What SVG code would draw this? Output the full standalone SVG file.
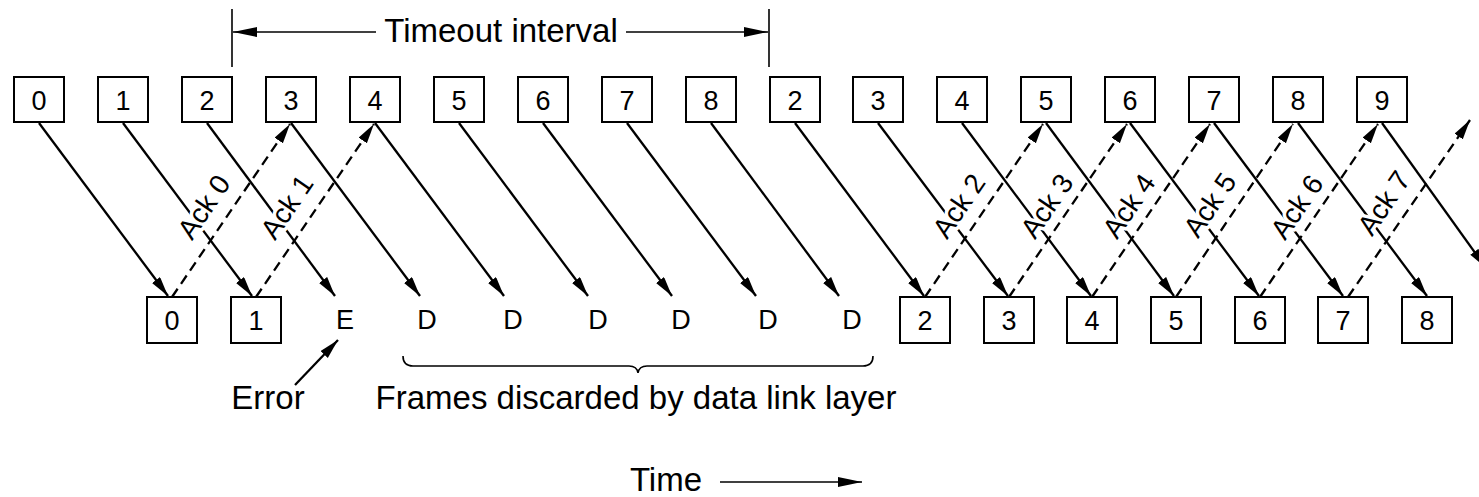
<svg xmlns="http://www.w3.org/2000/svg" width="1479" height="497" viewBox="0 0 1479 497">
<style>
  .box { fill: #fff; stroke: #000; stroke-width: 2; }
  .num { font-family: "Liberation Sans", Arial, sans-serif; font-size: 27px; fill: #000; text-anchor: middle; }
  .lbl { font-family: "Liberation Sans", Arial, sans-serif; font-size: 33px; fill: #000; text-anchor: middle; }
  .ack { font-family: "Liberation Sans", Arial, sans-serif; font-size: 28px; fill: #000; text-anchor: middle; dominant-baseline: central; stroke: #fff; stroke-width: 7px; paint-order: stroke; stroke-linejoin: round; }
  .solid { stroke: #000; stroke-width: 2.3; fill: none; marker-end: url(#ah); }
  .dash { stroke: #000; stroke-width: 2.3; fill: none; stroke-dasharray: 10 6; marker-end: url(#ah); }
  .thin { stroke: #000; stroke-width: 1.6; fill: none; }
</style>
<defs>
  <marker id="ah" markerUnits="userSpaceOnUse" markerWidth="22" markerHeight="12" refX="20" refY="5" orient="auto">
    <path d="M0,0 L20,5 L0,10 z" fill="#000"/>
  </marker>
  <marker id="ah2" markerUnits="userSpaceOnUse" markerWidth="26" markerHeight="12" refX="24" refY="5" orient="auto">
    <path d="M0,0 L24,5 L0,10 z" fill="#000"/>
  </marker>
</defs>
<rect width="1479" height="497" fill="#fff"/>

<g id="timeout">
  <line class="thin" x1="232" y1="9" x2="232" y2="67"/>
  <line class="thin" x1="769" y1="9" x2="769" y2="67"/>
  <line class="thin" x1="376" y1="32" x2="233" y2="32" marker-end="url(#ah2)"/>
  <line class="thin" x1="626" y1="32" x2="768" y2="32" marker-end="url(#ah2)"/>
  <text class="lbl" x="501" y="42">Timeout interval</text>
</g>

<g id="connectors">
  <!-- frames sent -->
  <line class="solid" x1="39" y1="123" x2="168" y2="296"/>
  <line class="solid" x1="123" y1="123" x2="252" y2="296"/>
  <line class="solid" x1="207" y1="123" x2="335" y2="296"/>
  <line class="solid" x1="291" y1="123" x2="420" y2="296"/>
  <line class="solid" x1="375" y1="123" x2="504" y2="296"/>
  <line class="solid" x1="459" y1="123" x2="588" y2="296"/>
  <line class="solid" x1="543" y1="123" x2="672" y2="296"/>
  <line class="solid" x1="627" y1="123" x2="756" y2="296"/>
  <line class="solid" x1="711" y1="123" x2="839" y2="296"/>
  <line class="solid" x1="795" y1="123" x2="924" y2="296"/>
  <line class="solid" x1="878" y1="123" x2="1008" y2="296"/>
  <line class="solid" x1="962" y1="123" x2="1091" y2="296"/>
  <line class="solid" x1="1046" y1="123" x2="1174" y2="296"/>
  <line class="solid" x1="1130" y1="123" x2="1259" y2="296"/>
  <line class="solid" x1="1214" y1="123" x2="1343" y2="296"/>
  <line class="solid" x1="1298" y1="123" x2="1427" y2="296"/>
  <line class="solid" x1="1382" y1="123" x2="1486" y2="268"/>
  <!-- acks -->
  <line class="dash" x1="172" y1="297" x2="290" y2="124"/>
  <line class="dash" x1="256" y1="297" x2="374" y2="124"/>
  <line class="dash" x1="925" y1="297" x2="1043" y2="124"/>
  <line class="dash" x1="1009" y1="297" x2="1127" y2="124"/>
  <line class="dash" x1="1092" y1="297" x2="1210" y2="124"/>
  <line class="dash" x1="1176" y1="297" x2="1293" y2="124"/>
  <line class="dash" x1="1260" y1="297" x2="1378" y2="124"/>
  <line class="dash" x1="1348" y1="297" x2="1470" y2="120"/>
  <!-- error pointer -->
  <line class="solid" x1="295" y1="385" x2="338" y2="340" stroke-width="1.8"/>
</g>

<g id="ack-labels">
  <text class="ack" transform="translate(204,207) rotate(-55.5)">Ack 0</text>
  <text class="ack" transform="translate(287,207) rotate(-55.5)">Ack 1</text>
  <text class="ack" transform="translate(959,206) rotate(-55.5)">Ack 2</text>
  <text class="ack" transform="translate(1047,206) rotate(-55.5)">Ack 3</text>
  <text class="ack" transform="translate(1129,206) rotate(-55.5)">Ack 4</text>
  <text class="ack" transform="translate(1210,205) rotate(-55.5)">Ack 5</text>
  <text class="ack" transform="translate(1297,207) rotate(-55.5)">Ack 6</text>
  <text class="ack" transform="translate(1384,203) rotate(-55.5)">Ack 7</text>
</g>

<g id="sender">
  <g id="s0"><rect class="box" x="14" y="77" width="50" height="45"/><text class="num" x="39" y="110">0</text></g>
  <g id="s1"><rect class="box" x="98" y="77" width="50" height="45"/><text class="num" x="123" y="110">1</text></g>
  <g id="s2"><rect class="box" x="182" y="77" width="50" height="45"/><text class="num" x="207" y="110">2</text></g>
  <g id="s3"><rect class="box" x="266" y="77" width="50" height="45"/><text class="num" x="291" y="110">3</text></g>
  <g id="s4"><rect class="box" x="350" y="77" width="50" height="45"/><text class="num" x="375" y="110">4</text></g>
  <g id="s5"><rect class="box" x="434" y="77" width="50" height="45"/><text class="num" x="459" y="110">5</text></g>
  <g id="s6"><rect class="box" x="518" y="77" width="50" height="45"/><text class="num" x="543" y="110">6</text></g>
  <g id="s7"><rect class="box" x="602" y="77" width="50" height="45"/><text class="num" x="627" y="110">7</text></g>
  <g id="s8"><rect class="box" x="686" y="77" width="50" height="45"/><text class="num" x="711" y="110">8</text></g>
  <g id="s2b"><rect class="box" x="770" y="77" width="50" height="45"/><text class="num" x="795" y="110">2</text></g>
  <g id="s3b"><rect class="box" x="853" y="77" width="50" height="45"/><text class="num" x="878" y="110">3</text></g>
  <g id="s4b"><rect class="box" x="937" y="77" width="50" height="45"/><text class="num" x="962" y="110">4</text></g>
  <g id="s5b"><rect class="box" x="1021" y="77" width="50" height="45"/><text class="num" x="1046" y="110">5</text></g>
  <g id="s6b"><rect class="box" x="1105" y="77" width="50" height="45"/><text class="num" x="1130" y="110">6</text></g>
  <g id="s7b"><rect class="box" x="1189" y="77" width="50" height="45"/><text class="num" x="1214" y="110">7</text></g>
  <g id="s8b"><rect class="box" x="1273" y="77" width="50" height="45"/><text class="num" x="1298" y="110">8</text></g>
  <g id="s9"><rect class="box" x="1357" y="77" width="50" height="45"/><text class="num" x="1382" y="110">9</text></g>
</g>

<g id="receiver">
  <g id="r0"><rect class="box" x="147" y="297" width="50" height="46"/><text class="num" x="172" y="330">0</text></g>
  <g id="r1"><rect class="box" x="231" y="297" width="50" height="46"/><text class="num" x="256" y="330">1</text></g>
  <g id="rE"><text class="num" x="345" y="329">E</text></g>
  <g id="rD1"><text class="num" x="427" y="329">D</text></g>
  <g id="rD2"><text class="num" x="513" y="329">D</text></g>
  <g id="rD3"><text class="num" x="598" y="329">D</text></g>
  <g id="rD4"><text class="num" x="681" y="329">D</text></g>
  <g id="rD5"><text class="num" x="768" y="329">D</text></g>
  <g id="rD6"><text class="num" x="852" y="329">D</text></g>
  <g id="r2"><rect class="box" x="900" y="297" width="50" height="46"/><text class="num" x="925" y="330">2</text></g>
  <g id="r3"><rect class="box" x="984" y="297" width="50" height="46"/><text class="num" x="1009" y="330">3</text></g>
  <g id="r4"><rect class="box" x="1067" y="297" width="50" height="46"/><text class="num" x="1092" y="330">4</text></g>
  <g id="r5"><rect class="box" x="1151" y="297" width="50" height="46"/><text class="num" x="1176" y="330">5</text></g>
  <g id="r6"><rect class="box" x="1235" y="297" width="50" height="46"/><text class="num" x="1260" y="330">6</text></g>
  <g id="r7"><rect class="box" x="1318" y="297" width="50" height="46"/><text class="num" x="1343" y="330">7</text></g>
  <g id="r8"><rect class="box" x="1402" y="297" width="50" height="46"/><text class="num" x="1427" y="330">8</text></g>
</g>

<g id="annotations">
  <path class="thin" d="M403,356 Q403,366 413,366 L629,366 Q637,366 638,373 Q639,366 647,366 L863,366 Q873,366 873,356"/>
  <text class="lbl" x="268" y="409">Error</text>
  <text class="lbl" x="636" y="409">Frames discarded by data link layer</text>
  <text class="lbl" x="666" y="491">Time</text>
  <line class="thin" x1="720" y1="482" x2="862" y2="482" marker-end="url(#ah2)"/>
</g>
</svg>
